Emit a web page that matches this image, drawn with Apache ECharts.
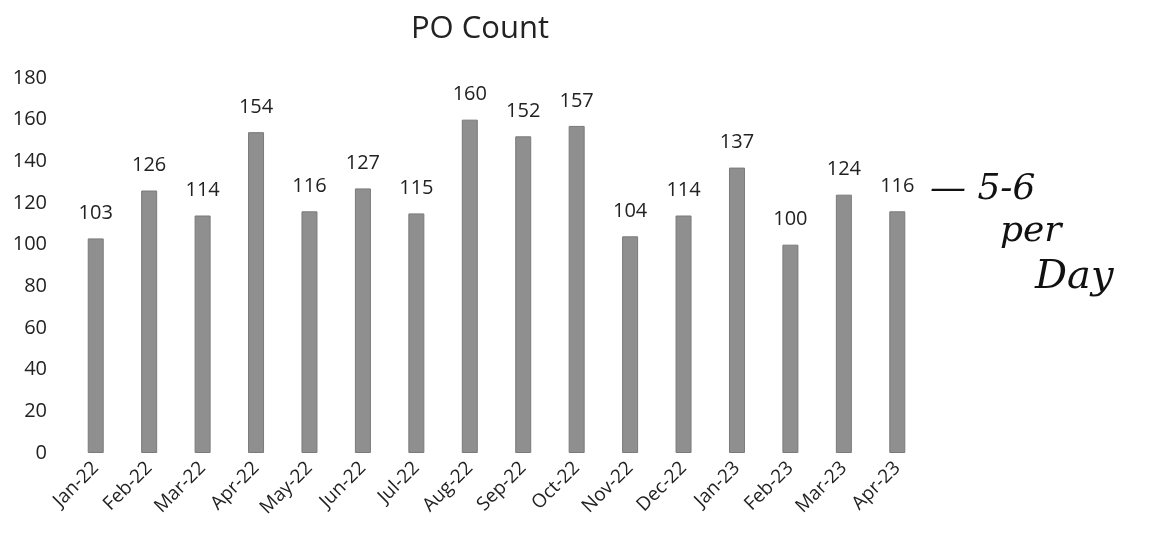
<!DOCTYPE html>
<html><head><meta charset="utf-8">
<script src="https://cdn.jsdelivr.net/npm/echarts@6/dist/echarts.min.js"></script>
<style>html,body{margin:0;padding:0;background:#fff}#c{width:1152px;height:543px}</style>
</head><body><div id="c"></div>
<script>
const categories = ["Jan-22","Feb-22","Mar-22","Apr-22","May-22","Jun-22","Jul-22","Aug-22","Sep-22","Oct-22","Nov-22","Dec-22","Jan-23","Feb-23","Mar-23","Apr-23"];
const poCount = [103,126,114,154,116,127,115,160,152,157,104,114,137,100,124,116];
const yTicks = {min:0, max:180, interval:20};
const chart = echarts.init(document.getElementById('c'));
const font = '"Open Sans", "Noto Sans", sans-serif';
chart.setOption({
  animation:false,
  title:{text:'PO Count', left:475, top:9, textAlign:'center', textStyle:{fontFamily:font, fontSize:31, fontWeight:'normal', color:'#222'}},
  grid:{left:69, right:228, top:78, bottom:90},
  xAxis:{type:'category', data:categories, axisLine:{show:false}, axisTick:{show:false},
    axisLabel:{rotate:45, fontFamily:font, fontSize:19, color:'#222', margin:12, interval:0}},
  yAxis:{type:'value', min:yTicks.min, max:yTicks.max, interval:yTicks.interval, splitLine:{show:false},
    axisLabel:{fontFamily:font, fontSize:20, color:'#222', margin:22}},
  series:[{type:'bar', data:poCount, barWidth:16,
    itemStyle:{color:'#8f8f8f', borderColor:'#7a7a7a', borderWidth:1},
    label:{show:true, position:'top', distance:15, fontFamily:font, fontSize:20, color:'#222'}}],
  graphic:[
    {type:'text', left:930, top:172, style:{text:'— 5-6', font:'italic 36px "DejaVu Serif", serif', fill:'#111'}},
    {type:'text', left:1000, top:214, style:{text:'per', font:'italic 36px "DejaVu Serif", serif', fill:'#111'}},
    {type:'text', left:1035, top:258, style:{text:'Day', font:'italic 40px "DejaVu Serif", serif', fill:'#111'}}
  ]
});
</script></body></html>
